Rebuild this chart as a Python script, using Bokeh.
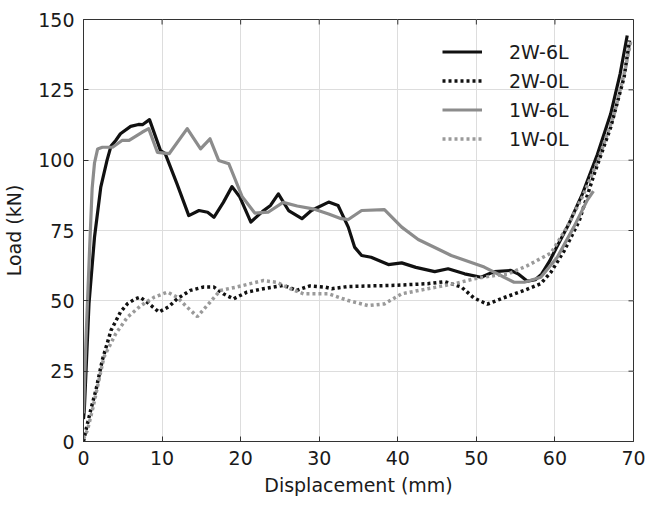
import math
from bokeh.plotting import figure
from bokeh.models import Legend, LegendItem, FixedTicker, Range1d
from bokeh.embed import file_html
from bokeh.resources import INLINE

# ---- data ----
x_2w6l = [0, 0.1, 0.7, 1.4, 2.2, 3.0, 3.5, 4.1, 4.7, 6.0, 7.0, 7.5, 8.4, 9.8, 10.4, 11.9, 13.4, 14.7,
          15.8, 16.6, 17.8, 18.9, 19.9, 21.3, 22.8, 23.8, 24.8, 26.1, 27.8, 29.0, 31.2, 32.4, 33.7, 34.5,
          35.4, 36.6, 38.8, 40.5, 42.3, 44.7, 46.4, 48.5, 50.6, 52.3, 54.4, 55.3, 56.5, 57.5, 58.3, 59.3,
          60.3, 61.8, 63.5, 65.4, 67.1, 68.3, 69.2]
y_2w6l = [8, 11, 49, 72.6, 90.4, 100, 105, 107, 109.4, 112, 112.7, 112.6, 114.4, 103.4, 102.3, 91.6, 80.3, 82.1,
          81.5, 79.7, 85, 90.6, 86.9, 78, 81.8, 83.9, 88, 82.1, 79.2, 82.1, 85.1, 83.9, 76.2, 69.1,
          66.1, 65.5, 62.9, 63.5, 61.9, 60.4, 61.4, 59.6, 58.4, 60.4, 60.8, 59.6, 57, 57.5, 59.5, 64,
          69.5, 77.5, 88, 102, 116.5, 130.7, 144.3]

x_2w0l = [0, 0.3, 0.9, 1.6, 2.4, 3.5, 4.7, 5.6, 6.6, 7.2, 8.1, 9.6, 10.9, 11.9, 13.6, 15.3, 16.6, 17.8,
          19.1, 20.8, 22.9, 25.5, 27.1, 28.8, 30.7, 31.6, 33.7, 39.6, 43.8, 46.0, 48.1, 49.7, 51.4, 53.4,
          56.1, 58.2, 59.5, 61.2, 63.1, 65.0, 67.1, 68.8, 69.5]
y_2w0l = [0, 3.9, 11, 18.5, 29, 39.5, 46, 49, 50.7, 51.3, 49.5, 46, 48, 50.7, 53.7, 54.9, 54.9, 52.5,
          50.7, 53.1, 54.3, 55.5, 53.7, 55.3, 54.9, 54.3, 55.1, 55.5, 56.1, 56.8, 54.9, 51, 48.8, 51,
          53.7, 56.1, 60.2, 67.9, 78.5, 95.1, 111.7, 129.5, 142.5]

x_1w6l = [0, 0.3, 0.8, 1.1, 1.4, 1.8, 2.4, 3.7, 4.9, 5.8, 7.5, 8.3, 9.4, 10.9, 13.2, 14.9, 16.1, 17.2,
          18.5, 20.2, 21.8, 23.5, 25.4, 27.2, 29.2, 31.2, 32.8, 33.7, 35.4, 38.3, 40.5, 42.6, 45.5, 46.8,
          51.0, 53.1, 54.8, 56.1, 58.2, 60.3, 62.4, 64.1, 64.9]
y_1w6l = [10, 35, 70, 90, 99, 104, 104.6, 104.6, 107, 107, 110, 111.2, 102.8, 102.3, 111.2, 104, 107.6, 99.9,
          98.7, 87, 81.2, 81.5, 85, 83.7, 82.7, 80.9, 79.2, 78.9, 82.1, 82.4, 76.2, 71.8, 67.9, 66.1,
          62, 59, 56.6, 56.6, 58.4, 65.5, 76.2, 85.7, 89]

x_1w0l = [0, 0.5, 1.2, 2.6, 4.1, 5.6, 7.3, 9.0, 10.7, 11.9, 13.2, 14.5, 16.1, 17.4, 19.5, 21.5, 22.9, 24.6,
          26.3, 28.0, 31.2, 33.7, 36.2, 38.3, 40.5, 43.8, 47.2, 49.7, 52.3, 54.0, 56.5, 59.5, 61.5, 63.5,
          65.5, 67.5, 69.0, 69.7]
y_1w0l = [1, 4, 12, 30, 38.3, 44.2, 48.3, 51.3, 53.1, 51.3, 47.7, 44.4, 49.5, 53.7, 54.9, 56.3, 57.2, 56.6,
          54.3, 52.5, 52.5, 50.1, 48.3, 48.9, 52.5, 54.3, 56.1, 57.8, 59.0, 59.5, 62.5, 67, 76, 87,
          100, 116, 133, 143]

x_ticks = [0, 10, 20, 30, 40, 50, 60, 70]
y_ticks = [0, 25, 50, 75, 100, 125, 150]
X_MIN, X_MAX = 0, 70
Y_MIN, Y_MAX = 0, 150

FONT = "DejaVu Sans"
TXT = "#1a1a1a"
EDGE = "#333333"

p = figure(width=648, height=507, output_backend="svg", toolbar_location=None,
           x_range=Range1d(X_MIN, X_MAX), y_range=Range1d(Y_MIN, Y_MAX),
           min_border_left=81, min_border_right=15, min_border_top=19, min_border_bottom=66)
p.background_fill_color = "white"
p.border_fill_color = "white"
p.outline_line_color = EDGE
p.outline_line_width = 1

for ax in (p.xaxis[0], p.yaxis[0]):
    ax.axis_line_color = EDGE
    ax.major_tick_in = 5
    ax.major_tick_out = 0
    ax.minor_tick_line_color = None
    ax.major_tick_line_color = EDGE
    ax.major_label_text_font = FONT
    ax.major_label_text_font_size = "19px"
    ax.major_label_text_color = TXT
    ax.axis_label_text_font = FONT
    ax.axis_label_text_font_size = "19px"
    ax.axis_label_text_color = TXT
    ax.axis_label_text_font_style = "normal"
    ax.major_label_standoff = 9

p.xaxis[0].ticker = FixedTicker(ticks=x_ticks)
p.yaxis[0].ticker = FixedTicker(ticks=y_ticks)
p.xaxis[0].axis_label = "Displacement (mm)"
p.yaxis[0].axis_label = "Load (kN)"
p.xaxis[0].axis_label_standoff = 6
p.yaxis[0].axis_label_standoff = 10

# inward tick marks on the top and right edges of the box (MATLAB style)
p.ray(x=x_ticks, y=[Y_MAX] * len(x_ticks), length=5, length_units="screen",
      angle=-math.pi / 2, line_color=EDGE, line_width=1)
p.ray(x=[X_MAX] * len(y_ticks), y=y_ticks, length=5, length_units="screen",
      angle=math.pi, line_color=EDGE, line_width=1)

p.xgrid.ticker = FixedTicker(ticks=x_ticks)
p.ygrid.ticker = FixedTicker(ticks=y_ticks)
p.grid.grid_line_color = "#dddddd"
p.grid.grid_line_width = 1

r1 = p.line(x_2w6l, y_2w6l, line_color="#111111", line_width=3.2, line_join="round")
r2 = p.line(x_2w0l, y_2w0l, line_color="#111111", line_width=3.5, line_dash="3 3")
r3 = p.line(x_1w6l, y_1w6l, line_color="#8c8c8c", line_width=3.2, line_join="round")
r4 = p.line(x_1w0l, y_1w0l, line_color="#9a9a9a", line_width=3.5, line_dash="3 3")

legend = Legend(items=[LegendItem(label="2W-6L", renderers=[r1]),
                       LegendItem(label="2W-0L", renderers=[r2]),
                       LegendItem(label="1W-6L", renderers=[r3]),
                       LegendItem(label="1W-0L", renderers=[r4])],
                location=(359, 288), padding=0, margin=0, spacing=0,
                glyph_width=40, glyph_height=29, label_height=29, label_standoff=27,
                label_text_font=FONT, label_text_font_size="19px", label_text_color=TXT,
                border_line_color=None, background_fill_alpha=0)
p.add_layout(legend, "center")

open("out.html", "w").write(file_html(p, INLINE))
